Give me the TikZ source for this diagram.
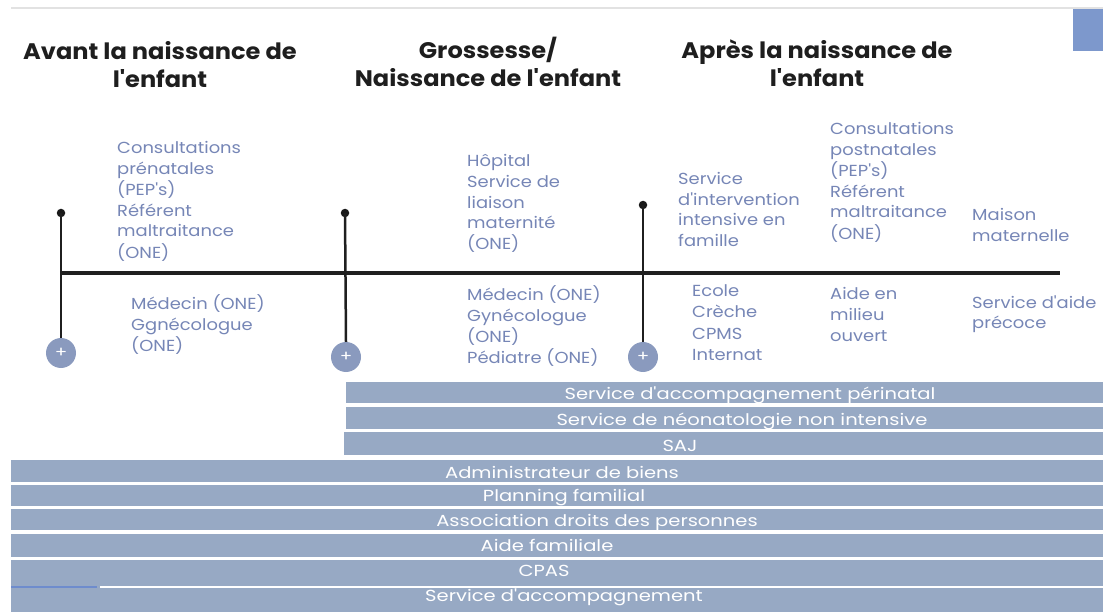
\documentclass[tikz,border=0pt]{standalone}
\usepackage{fontspec}
\setmainfont{Poppins}[FakeStretch=1.22,Ligatures=TeXOff]
\newfontfamily\labfont{Poppins}[FakeStretch=1.12,Ligatures=TeXOff]
\newfontfamily\hdrfont{Poppins}[FakeStretch=1.07,Ligatures=TeXOff]
\newcommand{\mylines}[1]{\begin{tabular}[t]{@{}l@{}}#1\end{tabular}}
\newcommand{\myclines}[1]{\begin{tabular}[t]{@{}c@{}}#1\end{tabular}}
\definecolor{labc}{RGB}{118,134,182}
\definecolor{barc}{RGB}{151,169,196}
\definecolor{circc}{RGB}{138,154,190}
\definecolor{hdrc}{RGB}{30,30,30}
\definecolor{sqc}{RGB}{125,152,204}
\definecolor{toplinec}{RGB}{226,226,226}
\definecolor{sepblue}{RGB}{110,140,205}
\begin{document}
\begin{tikzpicture}[x=1pt,y=-1pt,
  hdr/.style={anchor=base,inner sep=0,text=hdrc,font=\hdrfont\bfseries\fontsize{22.5}{28}\selectfont},
  lab/.style={anchor=base west,inner sep=0,text=labc,font=\labfont\fontsize{16}{20.6}\selectfont},
  labb/.style={anchor=base west,inner sep=0,text=labc,font=\labfont\fontsize{16}{21.3}\selectfont},
  bartext/.style={anchor=base,inner sep=0,text=white,font=\fontsize{16}{20}\selectfont},
  dotnode/.style={circle,fill=black!90,inner sep=0,minimum size=8.5pt},
  plusnode/.style={circle,fill=circc,inner sep=0,minimum size=30pt,text=white,font=\fontsize{15}{15}\selectfont},
  vline/.style={line width=2.5pt,draw=black!88},
  hline/.style={line width=3.5pt,draw=black!88}]
\useasboundingbox (0,0) rectangle (1103,612);
% top decoration
\draw[toplinec,line width=2pt] (11,8) -- (1103,8);
\fill[sqc] (1073,9) rectangle (1103,51);
% headers
\node[hdr] (h1) at (160,60) {\myclines{Avant la naissance de\\l'enfant}};
\node[hdr] (h2) at (488,59) {\myclines{Grossesse/\\Naissance de l'enfant}};
\node[hdr] (h3) at (817,59) {\myclines{Après la naissance de\\l'enfant}};
% timeline
\coordinate (t0) at (61,273);
\coordinate (t1) at (1060,273);
\draw[hline] (t0) -- (t1);
\node[dotnode] (d1) at (61,213) {};
\node[dotnode] (d2) at (345,213) {};
\node[dotnode] (d3) at (643,205) {};
\node[plusnode] (c1) at (61,353) {+};
\node[plusnode] (c2) at (346,357) {+};
\node[plusnode] (c3) at (643,357) {+};
\draw[vline] (d1.center) -- (c1.north);
\draw[vline] (d2.center) -- (c2.north);
\draw[vline] (d3.center) -- (c3.north);
% labels above
\node[lab] (a1) at (117,154) {\mylines{Consultations\\prénatales\\(PEP's)\\Référent\\maltraitance\\(ONE)}};
\node[lab] (a2) at (467,167) {\mylines{Hôpital\\Service de\\liaison\\maternité\\(ONE)}};
\node[lab] (a3) at (678,184.5) {\mylines{Service\\d'intervention\\intensive en\\famille}};
\node[lab] (a4) at (830,135) {\mylines{Consultations\\postnatales\\(PEP's)\\Référent\\maltraitance\\(ONE)}};
\node[lab] (a5) at (972,221) {\mylines{Maison\\maternelle}};
% labels below
\node[lab] (b1) at (131,310) {\mylines{Médecin (ONE)\\Ggnécologue\\(ONE)}};
\node[lab] (b2) at (467,300.5) {\mylines{Médecin (ONE)\\Gynécologue\\(ONE)\\Pédiatre (ONE)}};
\node[labb] (b3) at (692,296.7) {\mylines{Ecole\\Crèche\\CPMS\\Internat}};
\node[lab] (b4) at (830,300) {\mylines{Aide en\\milieu\\ouvert}};
\node[lab] (b5) at (972,308.3) {\mylines{Service d'aide\\précoce}};
% bars
\fill[barc] (346,381.5) rectangle (1103,403);
\fill[barc] (346,407) rectangle (1103,429);
\fill[barc] (344,432) rectangle (1103,455);
\fill[barc] (11,459.5) rectangle (1103,481.7);
\fill[barc] (11,485) rectangle (1103,505.5);
\fill[barc] (11,508.5) rectangle (1103,530);
\fill[barc] (11,533.5) rectangle (1103,556.5);
\fill[barc] (11,560) rectangle (1103,612);
\draw[white,line width=2.5pt] (100,587) -- (1103,587);
\draw[sepblue,line width=1.8pt] (11,587) -- (97,587);
\node[bartext] (s1) at (750,399) {Service d'accompagnement périnatal};
\node[bartext] (s2) at (742,425) {Service de néonatologie non intensive};
\node[bartext] (s3) at (680,451) {SAJ};
\node[bartext] (s4) at (562,478.3) {Administrateur de biens};
\node[bartext] (s5) at (564,501.7) {Planning familial};
\node[bartext] (s6) at (597,526.7) {Association droits des personnes};
\node[bartext] (s7) at (547,551.7) {Aide familiale};
\node[bartext] (s8) at (544,576.7) {CPAS};
\node[bartext] (s9) at (564,601.7) {Service d'accompagnement};
\end{tikzpicture}
\end{document}
